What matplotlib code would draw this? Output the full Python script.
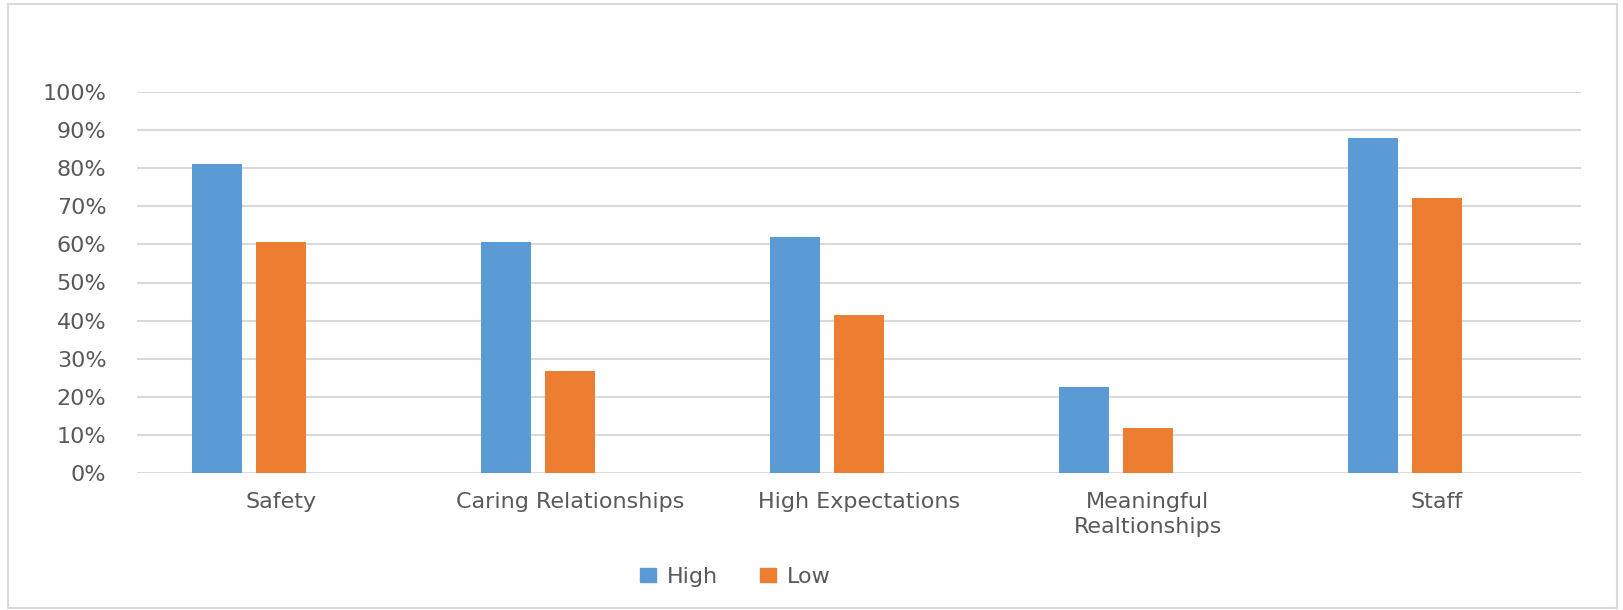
import matplotlib.pyplot as plt
import matplotlib.patches as mpatches
import numpy as np
from matplotlib.ticker import PercentFormatter

# dati
categorie = ["Safety", "Caring Relationships", "High Expectations",
             "Meaningful\nRealtionships", "Staff"]
high = [0.811, 0.606, 0.620, 0.226, 0.878]
low = [0.606, 0.269, 0.416, 0.117, 0.722]
serie = ["High", "Low"]

blu = "#5B9BD5"
arancio = "#ED7D31"
grigio = "#595959"

plt.rcParams['font.family'] = ['DejaVu Sans']

fig = plt.figure(figsize=(16.23, 6.10), dpi=100)
ax = fig.add_axes([137/1623, 1-473/610, (1581-137)/1623, (473-92)/610])

x = np.arange(len(categorie))
w = 0.173  # larghezza barre
ax.bar(x - 0.2216, high, width=w, color=blu, zorder=3)
ax.bar(x, low, width=w, color=arancio, zorder=3)

ax.set_xlim(-0.5, len(categorie) - 0.5)
ax.set_ylim(0, 1)
ax.set_yticks(np.arange(0, 1.01, 0.1))
ax.yaxis.set_major_formatter(PercentFormatter(1.0, decimals=0))
ax.grid(axis="y", color="#d9d9d9", lw=1.5, zorder=0)

for s in ["top", "right", "left", "bottom"]:
    ax.spines[s].set_visible(False)

ax.set_xticks(x)
ax.set_xticklabels(categorie, linespacing=1.3)
ax.tick_params(axis="y", length=0, pad=22, labelsize=16, labelcolor=grigio)
ax.tick_params(axis="x", length=0, pad=14, labelsize=16, labelcolor=grigio)

# legenda
maniglie = [mpatches.Patch(color=blu), mpatches.Patch(color=arancio)]
fig.legend(maniglie, serie, loc="center left", bbox_to_anchor=(629/1623, 1-577/610),
           ncol=2, frameon=False, fontsize=16, labelcolor=grigio, borderpad=0,
           handlelength=0.7, handleheight=0.6, handletextpad=0.5,
           columnspacing=1.9)

# cornice del grafico
cornice = mpatches.Rectangle((8/1623, 1-608/610), (1617-8)/1623, (608-4)/610,
                             transform=fig.transFigure, fill=False,
                             edgecolor="#d9d9d9", lw=1.5)
fig.patches.append(cornice)

fig.savefig("out.png", dpi=100)
